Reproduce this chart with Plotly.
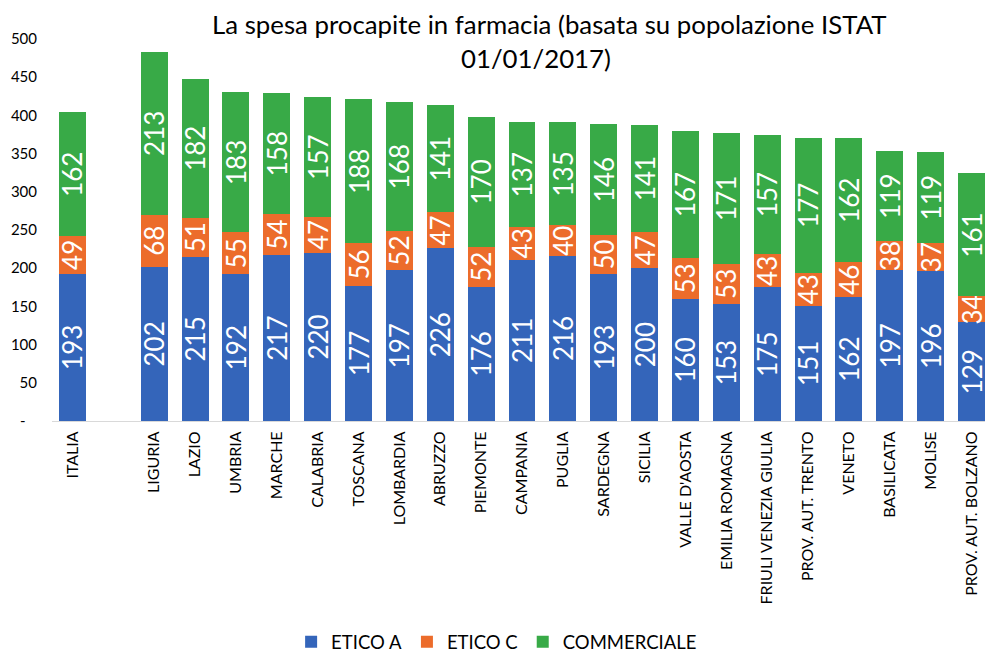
import plotly.graph_objects as go

categories = ["ITALIA", " ", "LIGURIA", "LAZIO", "UMBRIA", "MARCHE", "CALABRIA", "TOSCANA",
              "LOMBARDIA", "ABRUZZO", "PIEMONTE", "CAMPANIA", "PUGLIA", "SARDEGNA", "SICILIA",
              "VALLE D'AOSTA", "EMILIA ROMAGNA", "FRIULI VENEZIA GIULIA", "PROV. AUT. TRENTO",
              "VENETO", "BASILICATA", "MOLISE", "PROV. AUT. BOLZANO"]
etico_a = [193, None, 202, 215, 192, 217, 220, 177, 197, 226, 176, 211, 216, 193, 200,
           160, 153, 175, 151, 162, 197, 196, 129]
etico_c = [49, None, 68, 51, 55, 54, 47, 56, 52, 47, 52, 43, 40, 50, 47,
           53, 53, 43, 43, 46, 38, 37, 34]
commerciale = [162, None, 213, 182, 183, 158, 157, 188, 168, 141, 170, 137, 135, 146, 141,
               167, 171, 157, 177, 162, 119, 119, 161]
y_tickvals = [0, 50, 100, 150, 200, 250, 300, 350, 400, 450, 500]
y_ticktext = ["-\u00a0\u00a0\u00a0", "50", "100", "150", "200", "250", "300", "350", "400", "450", "500"]
title_lines = ["La spesa procapite in farmacia (basata su popolazione ISTAT", "01/01/2017)"]

FONT = "Lato"
series = [("ETICO A", etico_a, "#3465BA"),
          ("ETICO C", etico_c, "#EC6C2B"),
          ("COMMERCIALE", commerciale, "#38AA47")]

fig = go.Figure()
for name, vals, col in series:
    fig.add_trace(go.Bar(
        x=categories, y=vals, name=name, marker=dict(color=col, line=dict(width=0)),
        text=[("" if v is None else str(v)) for v in vals],
        textposition="inside", insidetextanchor="middle", textangle=-90,
        constraintext="none", cliponaxis=False,
        textfont=dict(family=FONT, size=26, color="white"),
        hoverinfo="skip",
    ))

fig.update_layout(
    barmode="stack", bargap=0.34,
    width=985, height=653,
    margin=dict(l=44, r=1, t=31, b=240, autoexpand=False),
    paper_bgcolor="white", plot_bgcolor="white",
    font=dict(family=FONT, color="#000000"),
    legend=dict(orientation="h", x=0.473, xanchor="center", y=-0.579, yanchor="middle",
                font=dict(family=FONT, size=18.5, color="#000000"), traceorder="normal",
                itemwidth=30, tracegroupgap=0),
    showlegend=True,
)
# title as two positioned lines
for txt, ypx, xp in zip(title_lines, [24, 58], [0.529, 0.515]):
    fig.add_annotation(text=txt, xref="paper", yref="paper",
                       x=xp, y=1 + (39 - ypx) / 382,
                       xanchor="center", yanchor="middle", showarrow=False,
                       font=dict(family=FONT, size=25.8, color="#000000"))
fig.update_xaxes(type="category", tickangle=-90, showline=True, linecolor="#D9D9D9",
                 linewidth=1, ticks="", showgrid=False, automargin=False,
                 ticklabelstandoff=3,
                 tickfont=dict(family=FONT, size=16, color="#000000"))
fig.update_yaxes(range=[0, 500], tickvals=y_tickvals, ticktext=y_ticktext, showgrid=False,
                 zeroline=False, showline=False, ticks="", ticklabelstandoff=14,
                 automargin=False,
                 tickfont=dict(family=FONT, size=15, color="#000000"))

fig.write_html("out.html")
